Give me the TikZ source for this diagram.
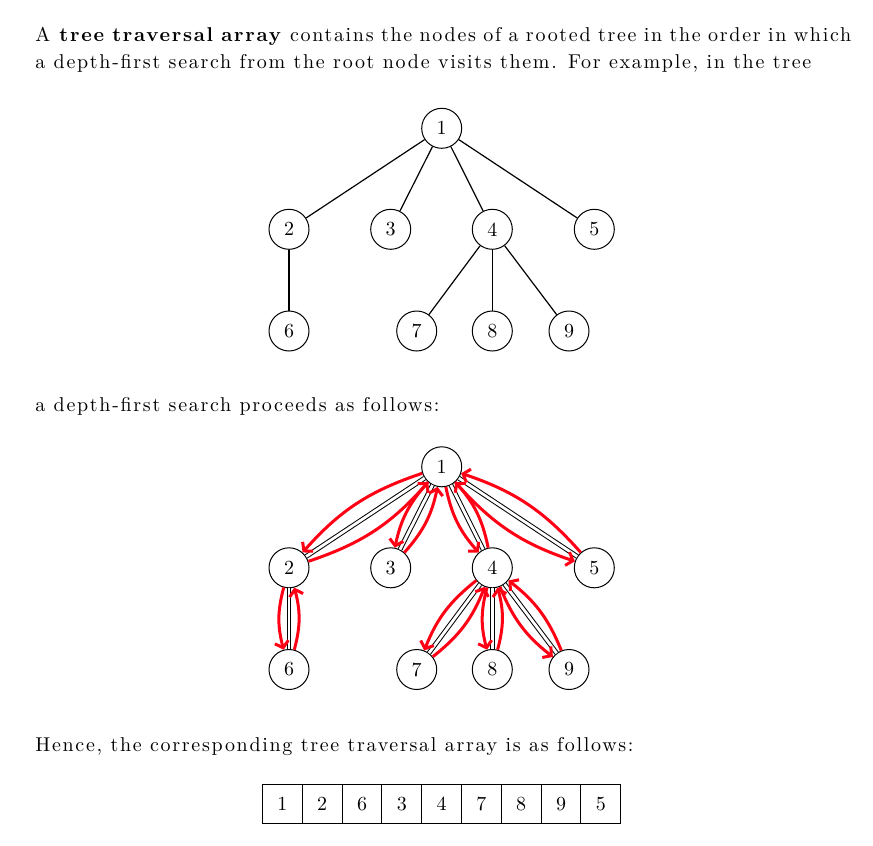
\documentclass[tikz,border=0pt]{standalone}
\usepackage{fontspec}
\newfontfamily\bodyfont{Latin Modern Roman}[LetterSpace=8.5]
\usetikzlibrary{arrows.meta}
\definecolor{walkred}{RGB}{255,0,20}
\begin{document}
\begin{tikzpicture}[x=0.5pt,y=-0.5pt,
  tnode/.style={circle,draw,fill=white,line width=0.5pt,minimum size=20pt,inner sep=0pt,font=\fontsize{10}{12}\selectfont},
  tedge/.style={line width=0.6pt},
  dedge/.style={double,double distance=1.4pt,line width=0.5pt},
  walk/.style={walkred,line width=1.5pt,-{Straight Barb[length=3pt,width=7pt]},bend right=15},
  txt/.style={anchor=base west,inner sep=0pt,font=\bodyfont\fontsize{10}{12}\selectfont},
  cell/.style={draw,minimum width=19.9pt,minimum height=19.5pt,inner sep=0pt,anchor=north west,line width=0.5pt,font=\fontsize{10}{12}\selectfont}]
\useasboundingbox (0,0) rectangle (873,846);
% text
\node[txt] (l1) at (35,41) {\makebox[407.9pt][s]{A \textbf{tree traversal array} contains the nodes of a rooted tree in the order in which}};
\node[txt] (l2) at (35,68.3) {a depth-first search from the root node visits them. For example, in the tree};
\node[txt] (l3) at (35,411) {a depth-first search proceeds as follows:};
\node[txt] (l4) at (35,751.7) {Hence, the corresponding tree traversal array is as follows:};
% top tree
\node[tnode] (a1) at (441.7,128.3) {1};
\node[tnode] (a2) at (289,229.3) {2};
\node[tnode] (a3) at (390.7,229.3) {3};
\node[tnode] (a4) at (492.3,229.3) {4};
\node[tnode] (a5) at (594.3,229.3) {5};
\node[tnode] (a6) at (289,331) {6};
\node[tnode] (a7) at (416.7,331) {7};
\node[tnode] (a8) at (492.3,331) {8};
\node[tnode] (a9) at (569,331) {9};
\foreach \p/\c in {a1/a2,a1/a3,a1/a4,a1/a5,a2/a6,a4/a7,a4/a8,a4/a9}
  \draw[tedge] (\p) -- (\c);
% bottom tree
\node[tnode] (b1) at (441.7,466.8) {1};
\node[tnode] (b2) at (289,567.8) {2};
\node[tnode] (b3) at (390.7,567.8) {3};
\node[tnode] (b4) at (492.3,567.8) {4};
\node[tnode] (b5) at (594.3,567.8) {5};
\node[tnode] (b6) at (289,669.5) {6};
\node[tnode] (b7) at (416.7,669.5) {7};
\node[tnode] (b8) at (492.3,669.5) {8};
\node[tnode] (b9) at (569,669.5) {9};
\foreach \p/\c in {b1/b2,b1/b3,b1/b4,b1/b5,b2/b6,b4/b7,b4/b8,b4/b9}
  \draw[dedge] (\p) -- (\c);
\foreach \p/\c in {b1/b2,b1/b3,b1/b4,b1/b5,b2/b6,b4/b7,b4/b8,b4/b9}{
  \draw[walk] (\p) to (\c);
  \draw[walk] (\c) to (\p);
}
% array
\foreach \v [count=\i] in {1,2,6,3,4,7,8,9,5}
  \node[cell] (c\i) at ({262+39.8*(\i-1)},784) {\v};
\end{tikzpicture}
\end{document}
